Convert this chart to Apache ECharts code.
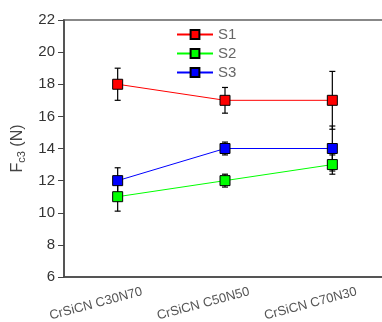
<!DOCTYPE html>
<html><head><meta charset="utf-8">
<script src="https://cdn.jsdelivr.net/npm/echarts@6/dist/echarts.min.js"></script>
<style>html,body{margin:0;padding:0;background:#fff}#c{width:382px;height:322px}</style>
</head><body><div id="c"></div>
<script>
const categories = ['CrSiCN C30N70', 'CrSiCN C50N50', 'CrSiCN C70N30'];
const s1 = [18, 17, 17];
const s1Err = [1.0, 0.8, 1.8];
const s2 = [11, 12, 13];
const s2Err = [0.9, 0.4, 0.6];
const s3 = [12, 14, 14];
const s3Err = [0.8, 0.4, 1.4];
const yTicks = [6, 8, 10, 12, 14, 16, 18, 20, 22];

const chart = echarts.init(document.getElementById('c'));
function errSeries(vals, errs) {
  return {
    type: 'custom',
    data: vals.map((v, i) => [i, v - errs[i], v + errs[i]]),
    z: 1,
    renderItem: function (params, api) {
      const lo = api.coord([api.value(0), api.value(1)]);
      const hi = api.coord([api.value(0), api.value(2)]);
      const w = 3;
      const st = { stroke: '#000', lineWidth: 1.2 };
      return { type: 'group', children: [
        { type: 'line', shape: { x1: lo[0], y1: lo[1], x2: hi[0], y2: hi[1] }, style: st },
        { type: 'line', shape: { x1: lo[0] - w, y1: lo[1], x2: lo[0] + w, y2: lo[1] }, style: st },
        { type: 'line', shape: { x1: hi[0] - w, y1: hi[1], x2: hi[0] + w, y2: hi[1] }, style: st }
      ]};
    }
  };
}
function lineSeries(name, vals, color) {
  return {
    name: name, type: 'line', data: vals, z: 3,
    symbol: 'rect', symbolSize: 10,
    lineStyle: { color: color, width: 1 },
    itemStyle: { color: color, borderColor: '#000', borderWidth: 1 }
  };
}
chart.setOption({
  animation: false,
  grid: { left: 64, top: 20, right: -4, bottom: 45, show: true, borderColor: '#888', borderWidth: 2,
    outerBoundsMode: 'none', containLabel: false },
  legend: {
    orient: 'vertical', left: 171, top: 22, itemWidth: 36, itemHeight: 11, itemGap: 4,
    textStyle: { color: '#666', fontSize: 15, fontFamily: 'Liberation Sans, Arial' },
    data: ['S1', 'S2', 'S3']
  },
  xAxis: {
    type: 'category', data: categories, boundaryGap: true,
    axisLine: { lineStyle: { color: '#444', width: 1.5 } },
    axisTick: { alignWithLabel: true, length: 6, lineStyle: { color: '#444' } },
    axisLabel: { rotate: 15, align: 'center', verticalAlign: 'middle', margin: 21, padding: [0, 45, 0, 0],
      color: '#555', fontSize: 13, fontFamily: 'Liberation Sans, Arial' },
    splitLine: { show: false }
  },
  yAxis: {
    type: 'value', min: 6, max: 22, interval: 2,
    axisLine: { show: true, lineStyle: { color: '#444', width: 1.5 } },
    axisTick: { show: true, length: 6, lineStyle: { color: '#444' } },
    axisLabel: { color: '#333', fontSize: 15, margin: 9, fontFamily: 'Liberation Sans, Arial',
      formatter: v => yTicks.includes(v) ? String(v) : '' },
    splitLine: { show: false },
    name: 'F{sub|c3} (N)', nameLocation: 'middle', nameGap: 35, nameRotate: 90,
    nameTextStyle: { color: '#444', fontSize: 16, fontFamily: 'Liberation Sans, Arial',
      rich: { sub: { fontSize: 11, color: '#444', fontFamily: 'Liberation Sans, Arial', padding: [8, 0, 0, 0] } } }
  },
  series: [
    errSeries(s1, s1Err), errSeries(s2, s2Err), errSeries(s3, s3Err),
    lineSeries('S1', s1, '#ff0000'),
    lineSeries('S2', s2, '#00ff00'),
    lineSeries('S3', s3, '#0000ff')
  ]
});
</script></body></html>
